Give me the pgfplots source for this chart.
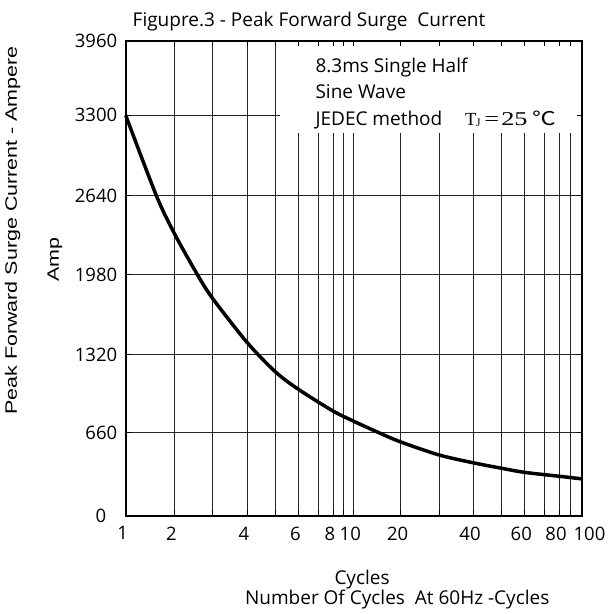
\documentclass[border=0pt]{standalone}
\usepackage{fontspec}
\setmainfont{Open Sans}
\newfontfamily\arialfont[FakeStretch=1.3]{Liberation Sans}
\newfontfamily\serifont{Liberation Serif}
\newfontfamily\serifwide[FakeStretch=1.35]{Liberation Serif}
\newfontfamily\cjk[FakeStretch=1.25]{Noto Sans CJK SC}
\usepackage{pgfplots}
\pgfplotsset{compat=1.18}
\pgfdeclarelayer{boxlayer}
\pgfplotsset{
  layers/withbox/.define layer set={axis background,axis grid,boxlayer,axis ticks,axis lines,axis tick labels,pre main,main,axis descriptions,axis foreground}{
    grid style={/pgfplots/on layer=axis grid},
    tick style={/pgfplots/on layer=axis ticks},
    axis line style={/pgfplots/on layer=axis lines},
    label style={/pgfplots/on layer=axis descriptions},
    title style={/pgfplots/on layer=axis descriptions},
    ticklabel style={/pgfplots/on layer=axis tick labels},
  },
}

% the printed scale is a hand drawn "log" scale: map it piecewise
\newdimen\mapdim
\makeatletter
\def\seg#1#2#3{\advance\mapdim by -#1pt \mapdim=#3\mapdim \advance\mapdim by #2pt}
\def\getval#1{%
  \pgfutil@in@{Y}{#1}%
  \ifpgfutil@in@ \pgfmathfloattofixed{#1}\else \edef\pgfmathresult{#1}\fi
  \mapdim=\pgfmathresult pt\relax}
\def\xmap#1{%
  \getval{#1}%
  \ifdim\mapdim<2pt \seg{1}{0}{48.6}\else
  \ifdim\mapdim<3pt \seg{2}{48.6}{38.2}\else
  \ifdim\mapdim<4pt \seg{3}{86.8}{34.5}\else
  \ifdim\mapdim<5pt \seg{4}{121.3}{28.3}\else
  \ifdim\mapdim<6pt \seg{5}{149.6}{23.0}\else
  \ifdim\mapdim<7pt \seg{6}{172.6}{20.0}\else
  \ifdim\mapdim<8pt \seg{7}{192.6}{14.7}\else
  \ifdim\mapdim<9pt \seg{8}{207.3}{10.7}\else
  \ifdim\mapdim<10pt \seg{9}{218.0}{9.6}\else
  \ifdim\mapdim<20pt \seg{10}{227.6}{4.74}\else
  \ifdim\mapdim<30pt \seg{20}{275.0}{3.83}\else
  \ifdim\mapdim<40pt \seg{30}{313.3}{3.40}\else
  \ifdim\mapdim<50pt \seg{40}{347.3}{2.87}\else
  \ifdim\mapdim<60pt \seg{50}{376.0}{2.26}\else
  \ifdim\mapdim<70pt \seg{60}{398.6}{2.00}\else
  \ifdim\mapdim<80pt \seg{70}{418.6}{1.47}\else
  \ifdim\mapdim<90pt \seg{80}{433.3}{1.10}\else
                     \seg{90}{444.3}{1.20}%
  \fi\fi\fi\fi\fi\fi\fi\fi\fi\fi\fi\fi\fi\fi\fi\fi\fi
  \edef\pgfmathresult{\strip@pt\mapdim}}
\def\ymap#1{%
  \getval{#1}%
  \ifdim\mapdim<660pt \seg{0}{0}{0.126061}\else
  \ifdim\mapdim<1320pt \seg{660}{83.2}{0.118182}\else
  \ifdim\mapdim<1980pt \seg{1320}{161.2}{0.120455}\else
  \ifdim\mapdim<2640pt \seg{1980}{240.7}{0.120455}\else
  \ifdim\mapdim<3300pt \seg{2640}{320.2}{0.121515}\else
                       \seg{3300}{400.4}{0.112576}%
  \fi\fi\fi\fi\fi
  \edef\pgfmathresult{\strip@pt\mapdim}}
\makeatother

\begin{document}
\fontsize{19bp}{23bp}\selectfont
\begin{tikzpicture}
\begin{axis}[
  set layers=withbox,
  clip=false,
  at={(0,0)}, anchor=south west,
  scale only axis,
  width=456.3bp, height=474.7bp,
  x coord trafo/.code={\xmap{#1}},
  y coord trafo/.code={\ymap{#1}},
  xmin=1, xmax=100,
  ymin=0, ymax=3960,
  xtick={1,2,4,6,8,10,20,40,60,80,100},
  xticklabels={1,2,4,6,8,10,20,40,60,80,\hspace*{21bp}100},
  minor xtick={3,5,7,9,30,50,70,90},
  ytick={0,660,1320,1980,2640,3300,3960},
  yticklabels={0\hspace*{11bp},660,1320,1980,2640,3300,3960},
  xmajorgrids, xminorgrids, ymajorgrids,
  grid style={black!85, line width=1bp},
  minor grid style={black!85, line width=1bp},
  axis line style={line width=1.8bp},
  tick align=inside,
  major tick length=5.5bp, minor tick length=5.5bp,
  tick style={black, line width=1bp},
  font=\fontsize{19bp}{23bp}\selectfont,
  tick label style={font=\fontsize{18.5bp}{22bp}\selectfont},
  xticklabel style={xshift=-3bp, yshift=-4.5bp},
  yticklabel style={xshift=-2bp},
]

% white panel behind the note, between the grid and the tick marks
\addplot [on layer=boxlayer, fill=white, draw=none] coordinates {
(5.2,3154) (100,3154) (100,3960) (5.2,3960)
} -- cycle;

\addplot [black, line width=3.5bp, smooth] coordinates {
(1,3300)
(1.63,2640)
(2,2326)
(2.61,1980)
(3,1787)
(4,1421)
(5,1174)
(6,1026)
(8,842)
(10,757)
(15.3,660)
(20,585)
(30,482)
(40,420)
(50,376)
(60,344)
(80,313)
(100,292)
};

\node[anchor=base west] at (axis description cs:0.4017,0.9332) {8.3ms Single Half};
\node[anchor=base west] at (axis description cs:0.4017,0.8793) {Sine Wave};
\node[anchor=base west] at (axis description cs:0.4017,0.823) {JEDEC method};
\node[anchor=base west, inner sep=0pt] at (axis description cs:0.7436,0.823)
  {\serifont\fontsize{18.5bp}{22bp}\selectfont T\hspace{-0.5bp}\raisebox{-0.1em}{\fontsize{11.5bp}{13bp}\selectfont J}\hspace{4bp}%
   {\serifwide\fontsize{19.5bp}{22bp}\selectfont =\hspace{2bp}25}\hspace{5bp}%
   {\cjk\fontsize{19bp}{22bp}\selectfont ℃}};

\node[anchor=base] at (axis description cs:0.4017,1.0295) {Figupre.3 - Peak Forward Surge~ Current};
\node[anchor=base] at (axis description cs:0.518,-0.144) {Cycles};
\node[anchor=base] at (axis description cs:0.595,-0.188) {Number Of Cycles~ At 60Hz -Cycles};
\node[rotate=90] at (axis description cs:-0.248,0.601)
  {\arialfont\fontsize{16.5bp}{19bp}\selectfont Peak Forward Surge Current - Ampere};
\node[rotate=90] at (axis description cs:-0.1553,0.540)
  {\arialfont\fontsize{16.5bp}{19bp}\selectfont Amp};
\end{axis}
\pgfresetboundingbox
\useasboundingbox (-125.7bp,-98.3bp) rectangle (483.3bp,515.7bp);
\end{tikzpicture}
\end{document}
